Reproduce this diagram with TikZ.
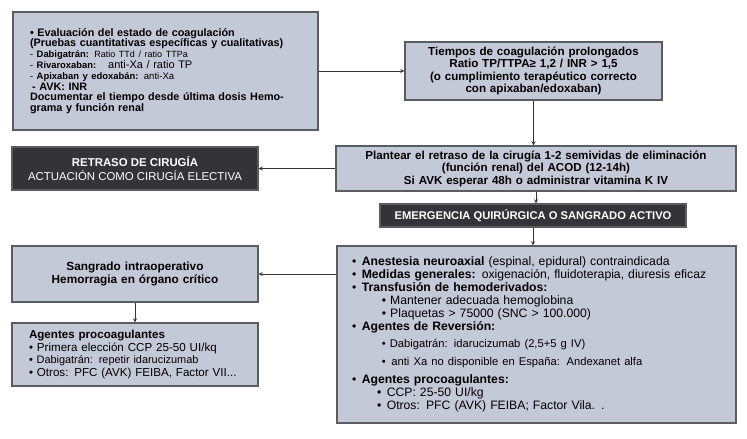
\documentclass[tikz,border=0pt]{standalone}
\usepackage{fontspec}
\setmainfont{Liberation Sans}
\usepackage{tikz}
\usetikzlibrary{arrows,shapes}
\usetikzlibrary{calc}
\definecolor{boxfill}{HTML}{C4C9D7}
\definecolor{boxline}{HTML}{5A5C62}
\definecolor{darkfill}{HTML}{343438}
\tikzstyle{lightbox}=[draw=boxline,fill=boxfill,line width=1.1pt,inner sep=0pt]
\tikzstyle{darkbox}=[draw=boxline,fill=darkfill,text=white,line width=1.1pt,inner sep=0pt,align=center]
\tikzstyle{edge} = [draw,line width=0.9pt,color=black!80,-stealth]
\tikzstyle{txt} = [font=\fontsize{12.2}{13}\selectfont]
\newcommand{\lite}[1]{{\fontsize{11.2}{13}\selectfont #1}}
\newcommand{\druglabel}[1]{{\fontsize{9.4}{10.8}\selectfont #1}}

\begin{document}
\begin{tikzpicture}[x=1pt,y=-1pt]
    \useasboundingbox (0,0) rectangle (747,439);

    % upper row
    \node[lightbox,minimum width=305,minimum height=118,text width=271,align=left,
          font=\fontsize{10.8}{10.8}\selectfont] (eval) at (165.5,71)
        {\textbf{• Evaluación del estado de coagulación}\\
         \textbf{(Pruebas cuantitativas específicas y cualitativas)}\\
         \druglabel{- \textbf{Dabigatrán:} {\fontsize{9}{10.8}\selectfont Ratio TTd / ratio TTPa}}\\
         \druglabel{- \textbf{Rivaroxaban:}}\hspace{1.1em}{\fontsize{11}{10.8}\selectfont anti-Xa / ratio TP}\\
         \druglabel{- \textbf{Apixaban y edoxabán:} {\fontsize{9.6}{10.8}\selectfont anti-Xa}}\\
         \hspace{0.2em}\textbf{- AVK: INR}\\
         \textbf{Documentar el tiempo desde última dosis Hemo-}\\
         \textbf{grama y función renal}\\[3pt]};
    \node[lightbox,minimum width=257,minimum height=58,text width=252,align=center,
          font=\fontsize{11.6}{12.6}\selectfont\bfseries] (tiempos) at (533.5,71)
        {Tiempos de coagulación prolongados\\
         Ratio TP/TTPA≥ 1,2 / INR > 1,5\\
         (o cumplimiento terapéutico correcto\\
         con apixaban/edoxaban)};

    % middle row
    \node[lightbox,minimum width=400,minimum height=45,text width=396,align=center,
          font=\fontsize{11.6}{12.5}\selectfont\bfseries] (plantear) at (536,168.5)
        {Plantear el retraso de la cirugía 1-2 semividas de eliminación\\
         (función renal) del ACOD (12-14h)\\
         Si AVK esperar 48h o administrar vitamina K IV};
    \node[darkbox,minimum width=246,minimum height=43,font=\fontsize{11.4}{13.3}\selectfont] (retraso) at (135,168.5)
        {\textbf{RETRASO DE CIRUGÍA}\\ ACTUACIÓN COMO CIRUGÍA ELECTIVA};
    \node[darkbox,minimum width=306,minimum height=23,font=\fontsize{11.2}{12}\selectfont\bfseries] (emergencia) at (533,215.5)
        {EMERGENCIA QUIRÚRGICA O SANGRADO ACTIVO};

    % lower row
    \node[lightbox,txt,minimum width=399,minimum height=177,text width=369,align=left] (medidas) at (536.5,334.5)
        {•\hspace{0.45em}\textbf{Anestesia neuroaxial} (espinal, epidural) contraindicada\\
         •\hspace{0.45em}\textbf{Medidas generales:} oxigenación, fluidoterapia, diuresis eficaz\\
         •\hspace{0.45em}\textbf{Transfusión de hemoderivados:}\\
         \hspace{2.45em}• Mantener adecuada hemoglobina\\
         \hspace{2.45em}• Plaquetas > 75000 (SNC > 100.000)\\
         •\hspace{0.45em}\textbf{Agentes de Reversión:}\\[3.5pt]
         \hspace{2.45em}\lite{• Dabigatrán: idarucizumab (2,5+5 g IV)}\\[5pt]
         \hspace{2.45em}\lite{•\hspace{0.5em}anti Xa no disponible en España:\hspace{0.6em}Andexanet alfa}\\[5.5pt]
         •\hspace{0.45em}\textbf{Agentes procoagulantes:}\\
         \hspace{2.05em}•\hspace{0.45em}CCP: 25-50 UI/kg\\
         \hspace{2.05em}•\hspace{0.45em}Otros: PFC (AVK) FEIBA; Factor Vila. .};
    \node[lightbox,minimum width=246,minimum height=56,text width=240,align=center,
          font=\fontsize{11.8}{13.5}\selectfont\bfseries] (sangrado) at (135,274)
        {Sangrado intraoperativo\\ Hemorragia en órgano crítico};
    \node[lightbox,minimum width=246,minimum height=63,text width=212,align=left,
          font=\fontsize{11.6}{12.9}\selectfont] (agentes) at (135,354.5)
        {\textbf{Agentes procoagulantes}\\
         • Primera elección CCP 25-50 UI/kq\\
         {\fontsize{10.9}{12.9}\selectfont • Dabigatrán: repetir idarucizumab}\\
         • Otros: PFC (AVK) FEIBA, Factor VII...};

    % connectors
    \path[edge] (eval) -- (tiempos);
    \path[edge] (plantear) -- (retraso);
    \path[edge] (medidas.west |- sangrado) -- (sangrado);
    \foreach \source/\dest in {tiempos/plantear, plantear/emergencia, emergencia/medidas, sangrado/agentes}
        \path[edge] (\source.south) -- (\source.south |- \dest.north);

\end{tikzpicture}
\end{document}
